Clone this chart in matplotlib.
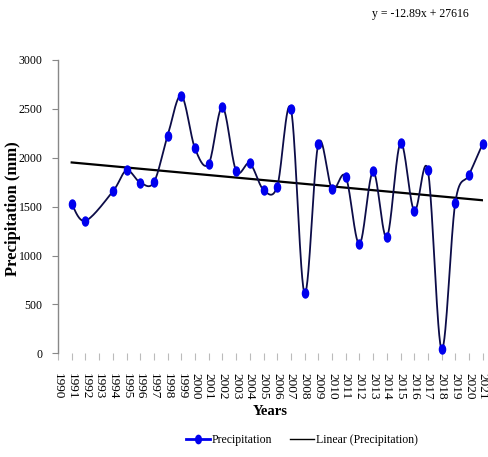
import numpy as np
import matplotlib
matplotlib.use("Agg")
import matplotlib.pyplot as plt
from matplotlib.path import Path
from matplotlib.transforms import Affine2D
from matplotlib.lines import Line2D

years = [1991, 1992, 1994, 1995, 1996, 1997, 1998, 1999, 2000, 2001, 2002, 2003,
         2004, 2005, 2006, 2007, 2008, 2009, 2010, 2011, 2012, 2013, 2014, 2015,
         2016, 2017, 2018, 2019, 2020, 2021]
precip = [1526, 1355, 1655, 1870, 1747, 1750, 2225, 2635, 2095, 1938, 2519, 1867,
          1942, 1672, 1706, 2502, 614, 2143, 1682, 1808, 1116, 1860, 1188, 2150,
          1457, 1870, 41, 1542, 1826, 2143]
trend_slope = -12.89
trend_intercept = 27616
tick_years = list(range(1990, 2022))
yticks = [0, 500, 1000, 1500, 2000, 2500, 3000]
equation = "y = -12.89x + 27616"

plt.rcParams['font.family'] = ['Liberation Serif', 'DejaVu Serif']


def smooth(x, y, n=30):
    x = np.asarray(x, float)
    y = np.asarray(y, float)
    xs, ys = [], []
    for i in range(len(x) - 1):
        p0 = np.array([x[max(i - 1, 0)], y[max(i - 1, 0)]])
        p1 = np.array([x[i], y[i]])
        p2 = np.array([x[i + 1], y[i + 1]])
        p3 = np.array([x[min(i + 2, len(x) - 1)], y[min(i + 2, len(x) - 1)]])
        c1 = p1 + (p2 - p0) / 6.0
        c2 = p2 - (p3 - p1) / 6.0
        t = np.linspace(0, 1, n)[:, None]
        b = ((1 - t) ** 3) * p1 + 3 * ((1 - t) ** 2) * t * c1 + 3 * (1 - t) * t ** 2 * c2 + t ** 3 * p2
        xs.extend(b[:, 0])
        ys.extend(b[:, 1])
    return np.array(xs), np.array(ys)


fig = plt.figure(figsize=(4.89, 4.57), dpi=100)
ax = fig.add_axes([58 / 489, 1 - 353.3 / 457, (482.7 - 58) / 489, (353.3 - 60) / 457])

sx, sy = smooth(years, precip)
ax.plot(sx, sy, color='#0c0c48', lw=1.3, zorder=3, clip_on=False)

ell = Path.unit_circle().transformed(Affine2D().scale(0.68, 1.0))
ax.plot(years, precip, linestyle='none', marker=ell, markersize=6.5,
        color='#0000ee', markeredgecolor='#0000ee', zorder=4, clip_on=False)

tx = np.array([years[0], years[-1]], float)
ax.plot(tx, trend_slope * tx + trend_intercept, color='black', lw=1.6, zorder=2)

ax.set_xlim(1990, 2021)
ax.set_ylim(0, 3000)
ax.set_xticks(tick_years)
ax.set_xticklabels([str(y) for y in tick_years], rotation=270, fontsize=9.5,
                   va='top', ha='center')
ax.set_yticks(yticks)
ax.set_yticklabels([str(v) for v in yticks], fontsize=8.5)

for s in ['top', 'right', 'bottom']:
    ax.spines[s].set_visible(False)
ax.spines['left'].set_color('#888888')
ax.spines['left'].set_linewidth(1.0)
ax.tick_params(axis='y', length=4, width=0.8, color='#888888', pad=7)
ax.tick_params(axis='x', length=5, width=0.8, color='#bbbbbb', pad=9)

ax.set_xlabel('Years', fontsize=10.5, fontweight='bold', labelpad=4)
fig.text(13 / 489, 1 - 209 / 457, 'Precipitation (mm)', rotation=90, fontsize=12,
         fontweight='bold', ha='center', va='center')

fig.text(420 / 489, 1 - 14 / 457, equation, fontsize=8.5, ha='center', va='center')

handles = [Line2D([], [], color='#0000ee', lw=2, marker=ell, markersize=6),
           Line2D([], [], color='black', lw=1)]
fig.legend(handles, ['Precipitation', 'Linear (Precipitation)'], loc='center',
           bbox_to_anchor=(302 / 489, 1 - 440 / 457), ncol=2, frameon=False,
           fontsize=8.5, handlelength=2.0, handletextpad=0.2, columnspacing=1.5)

fig.savefig('out.png', dpi=100)
